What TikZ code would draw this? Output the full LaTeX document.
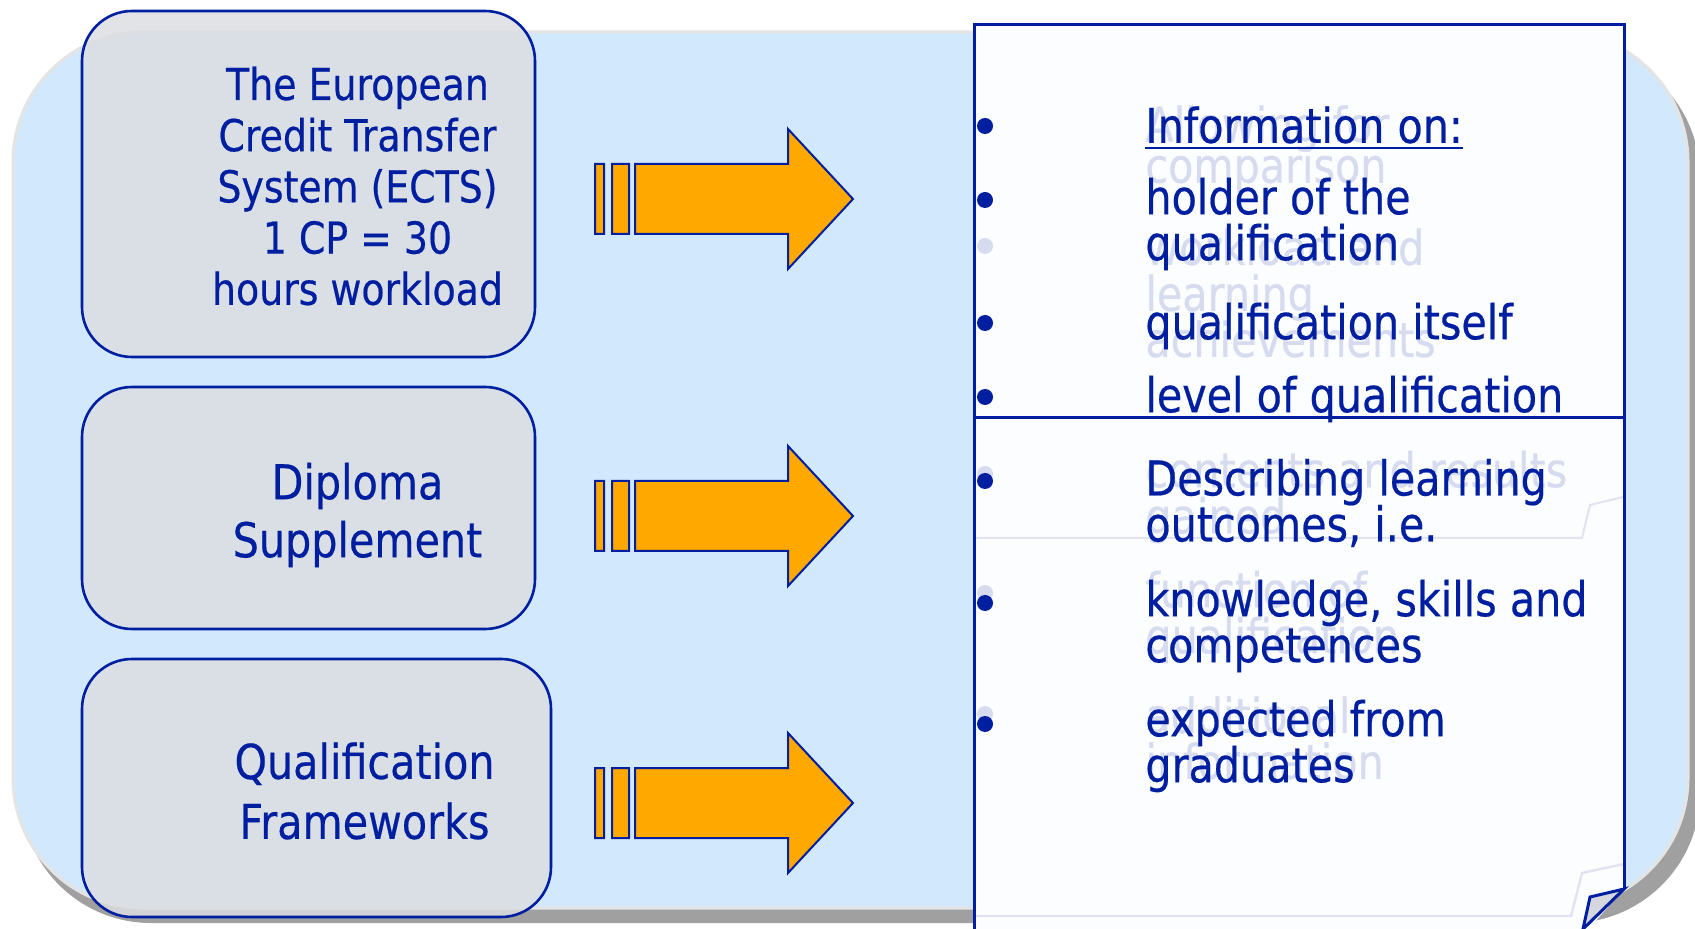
\documentclass[tikz,border=0pt]{standalone}
\usepackage{fontspec}
\setmainfont[FakeStretch=0.86, FakeBold=0.4]{DejaVu Sans}
\usetikzlibrary{positioning,calc}
\definecolor{navy}{RGB}{0,30,160}
\definecolor{panelblue}{RGB}{210,232,252}
\definecolor{panelrim}{RGB}{228,228,228}
\definecolor{shadowgray}{RGB}{160,160,160}
\definecolor{boxgray}{RGB}{220,222,226}
\definecolor{paper}{RGB}{252,253,255}
\definecolor{ghost}{RGB}{214,219,240}
\definecolor{ghostline}{RGB}{225,226,242}
\definecolor{foldgray}{RGB}{214,214,222}
\definecolor{arroworange}{RGB}{255,168,0}
\newcommand{\tightlines}{\lineskiplimit=-50pt\relax}
\tikzset{
  srcbox/.style={draw=navy, line width=1.3pt, fill=boxgray, fill opacity=0.85,
    rounded corners=25pt, inner sep=0pt},
  srctext/.style={text=navy, align=center, inner sep=0pt},
  itemtext/.style={text=navy, align=left, anchor=west, inner sep=0pt,
    font={\fontsize{24}{23}\selectfont\tightlines}},
  ghosttext/.style={itemtext, text=ghost},
  fatarrow/.pic={
    \filldraw[draw=navy, fill=arroworange, line width=1pt]
      (0,-35) rectangle (9,35) (17,-35) rectangle (34,35)
      (40,-35) -- (193,-35) -- (193,-70) -- (258,0) -- (193,70) -- (193,35) -- (40,35) -- cycle;
  }
}

\begin{document}
\begin{tikzpicture}[x=0.5pt, y=-0.5pt]
    \useasboundingbox (0,0) rectangle (1695,929);
    % background panel
    \fill[shadowgray, rounded corners=65pt] (21,47) rectangle (1700,923);
    \draw[panelrim, line width=1.5pt, fill=panelblue, rounded corners=65pt] (13,32) rectangle (1688,908);
    % paper on the right
    \fill[paper] (974,935) -- (974,25) -- (1624,25) -- (1624,889) -- (1583,935) -- cycle;
    \draw[ghostline, line width=1pt] (1623,497) -- (1590,505) -- (1582,538) -- (974,538);
    \draw[ghostline, line width=1.2pt] (1624,864) -- (1582,873) -- (1571,916) -- (974,916);
    \draw[navy, line width=1.5pt] (974,935) -- (974,25) -- (1624,25) -- (1624,889);
    \draw[navy, line width=1.5pt, fill=foldgray] (1624,889) -- (1590,897) -- (1583,929) -- cycle;
    \draw[navy, line width=1.5pt] (974,418) -- (1624,418);
    % boxes on the left
    \node[srcbox, minimum width=226.5pt, minimum height=173pt] (ects) at (308.5,184) {};
    \node[srcbox, minimum width=226.5pt, minimum height=121pt] (ds) at (308.5,508) {};
    \node[srcbox, minimum width=234.5pt, minimum height=129pt] (qf) at (316.5,788) {};
    \node[srctext, font=\fontsize{22}{25.6}\selectfont] (ectstxt) at ($(ects.center)+(49,2)$)
        {The European\\Credit Transfer\\System (ECTS)\\1 CP = 30\\hours workload};
    \node[srctext, font=\fontsize{24}{29}\selectfont] (dstxt) at ($(ds.center)+(49,7)$)
        {Diploma\\Supplement};
    \node[srctext, font=\fontsize{24}{30}\selectfont] (qftxt) at ($(qf.center)+(48,3)$)
        {Qualification\\Frameworks};
    % arrows
    \coordinate (arr_ects) at (595,199);
    \coordinate (arr_ds) at (595,516);
    \coordinate (arr_qf) at (595,803);
    \pic at (arr_ects) {fatarrow};
    \pic at (arr_ds) {fatarrow};
    \pic at (arr_qf) {fatarrow};
    % faded text underneath
    \node[ghosttext, font={\fontsize{24}{20.5}\selectfont\tightlines}] (g_compare) at (1145,149) {Allowing for\\comparison};
    \node[ghosttext] (g_workload) at (1145,293) {workload and\\learning\\achievements};
    \node[ghosttext] (g_contents) at (1145,497) {contents and results\\gained};
    \node[ghosttext] (g_function) at (1145,617) {function of\\qualification};
    \node[ghosttext] (g_additional) at (1145,738) {additional\\information};
    \fill[ghost] (985,126) circle[radius=8];
    \fill[ghost] (985,246) circle[radius=8];
    \fill[ghost] (985,474) circle[radius=8];
    \fill[ghost] (985,593) circle[radius=8];
    \fill[ghost] (985,714) circle[radius=8];
    % bullet text
    \node[itemtext] (info) at (1145,125) {Information on:};
    \draw[navy, line width=1.4pt] ($(info.south west)+(0,4)$) -- ($(info.south east)+(0,4)$);
    \node[itemtext] (holder) at (1145,224) {holder of the\\qualification};
    \node[itemtext] (itself) at (1145,326) {qualification itself};
    \node[itemtext] (level) at (1145,399) {level of qualification};
    \node[itemtext] (describe) at (1145,503) {Describing learning\\outcomes, i.e.};
    \node[itemtext] (knowledge) at (1145,626) {knowledge, skills and\\competences};
    \node[itemtext] (expected) at (1145,746) {expected from\\graduates};
    \fill[navy] (985,126) circle[radius=8];
    \fill[navy] (985,200) circle[radius=8];
    \fill[navy] (985,323) circle[radius=8];
    \fill[navy] (985,397) circle[radius=8];
    \fill[navy] (985,481) circle[radius=8];
    \fill[navy] (985,603) circle[radius=8];
    \fill[navy] (985,724) circle[radius=8];
\end{tikzpicture}
\end{document}
